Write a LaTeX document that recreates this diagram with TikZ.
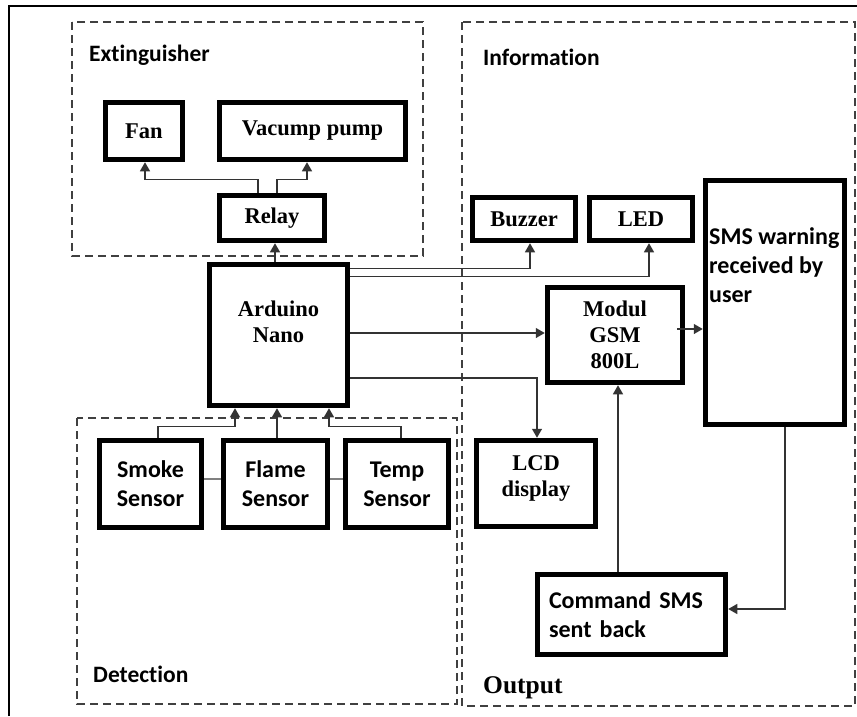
\documentclass[tikz,border=0pt]{standalone}
\usepackage{fontspec}
\setmainfont{Liberation Serif}
\newfontfamily\lblfont[Ligatures=NoCommon]{Carlito}
\usetikzlibrary{arrows.meta}
\definecolor{wire}{HTML}{333333}
\definecolor{dashgray}{HTML}{404040}
\tikzset{
	blk/.style={draw, line width=5.5pt, align=center},
	serif/.style={font={\fontsize{22.5}{26}\selectfont\bfseries}},
	sans/.style={font={\fontsize{24}{29}\lblfont\bfseries}},
	grp/.style={draw=dashgray, line width=2.4pt, dash pattern=on 8pt off 5pt},
	grplbl/.style={inner sep=0pt, anchor=base west, font={\fontsize{23.5}{28}\lblfont\bfseries}},
	conn/.style={draw=wire, line width=1.3pt},
	arr/.style={conn, -{Triangle[length=9pt,width=10pt]}},
}
\begin{document}
\begin{tikzpicture}[x=1pt, y=-1pt]
		\useasboundingbox (0,0) rectangle (857,716);
		\draw [line width=1.5pt] (9,716) -- (9,6) -- (857,6);
		\draw [grp] (72,22) rectangle (423,256);
		\draw [grp] (77,418) rectangle (457,704);
		\draw [grp] (462,22) rectangle (855,706);
		\node[grplbl] (extlbl) at (89,61) {Extinguisher};
		\node[grplbl] (detlbl) at (93,682) {Detection};
		\node[grplbl] (inflbl) at (483,65) {Information};
		\node[grplbl, font={\fontsize{25.5}{30}\selectfont\bfseries}] (outlbl) at (483,693) {Output};
		\node[blk, serif, minimum width=77pt, minimum height=57pt] (fan) at (144,131) {Fan};
		\node[blk, serif, minimum width=186pt, minimum height=57pt] (pump) at (312.5,131) {Vacump pump};
		\node[blk, serif, minimum width=105pt, minimum height=45pt] (relay) at (272,218) {Relay};
		\node[blk, serif, minimum width=138pt, minimum height=141pt, text depth=26pt] (ardu) at (278.5,335) {Arduino\\Nano};
		\node[blk, sans, minimum width=102pt, minimum height=87pt] (smoke) at (150.5,484) {Smoke\\Sensor};
		\node[blk, sans, minimum width=104pt, minimum height=87pt] (flame) at (275.5,484) {Flame\\Sensor};
		\node[blk, sans, minimum width=103pt, minimum height=87pt] (temp) at (397,484) {Temp\\Sensor};
		\node[blk, serif, minimum width=103pt, minimum height=43pt] (buzzer) at (524,219) {Buzzer};
		\node[blk, serif, minimum width=103pt, minimum height=43pt] (led) at (641,219) {LED};
		\node[blk, minimum width=139pt, minimum height=244pt] (sms) at (775,302.5) {};
		\node[sans, inner sep=0pt, anchor=base west, align=left] (smslbl) at (709,302) {SMS warning\\received by\\user};
		\node[blk, serif, minimum width=135pt, minimum height=95pt] (modul) at (615,335) {Modul\\GSM\\800L};
		\node[blk, serif, minimum width=119pt, minimum height=86pt, text depth=14pt] (lcd) at (536,483.5) {LCD\\display};
		\node[blk, sans, align=left, text width=165pt, minimum width=188pt, minimum height=80pt] (cmd) at (631.5,614.5) {Command SMS\\sent back};
		\draw [arr] ([xshift=-14pt]relay.north) -- ++(0,-13) -| ([xshift=1pt]fan.south);
		\draw [arr] ([xshift=5pt]relay.north) -- ++(0,-13) -| ([xshift=-5.5pt]pump.south);
		\draw [arr] ([xshift=-3.5pt]ardu.north) -- ([xshift=-3.5pt]ardu.north |- relay.south);
		\draw [arr] ([xshift=7.5pt]smoke.north) -- ++(0,-11) -| ([xshift=-43.5pt]ardu.south);
		\draw [arr] ([xshift=1.5pt]flame.north) -- ([xshift=1.5pt]flame.north |- ardu.south);
		\draw [arr] ([xshift=4pt]temp.north) -- ++(0,-11) -| ([xshift=50.5pt]ardu.south);
		\draw [conn, draw=gray] ([yshift=5pt]smoke.east) -- ([yshift=5pt]flame.west);
		\draw [conn, draw=gray] ([yshift=5pt]flame.east) -- ([yshift=5pt]temp.west);
		\draw [arr] ([yshift=-7pt]ardu.north east) -| ([xshift=6pt]buzzer.south);
		\draw [arr] ([yshift=-15pt]ardu.north east) -| ([xshift=8pt]led.south);
		\draw [arr] ([yshift=2pt]ardu.east) -- ([yshift=2pt]modul.west);
		\draw [arr] ([yshift=-43pt]ardu.east) -| ([xshift=1pt]lcd.north);
		\draw [arr] ([xshift=-8pt,yshift=6pt]modul.east) -- ([yshift=6pt]modul.east -| sms.west);
		\draw [arr] ([xshift=-13.5pt]cmd.north) -- ([xshift=-13.5pt]cmd.north |- modul.south);
		\draw [arr] ([xshift=10pt]sms.south) |- ([yshift=5.5pt]cmd.east);
\end{tikzpicture}
\end{document}
